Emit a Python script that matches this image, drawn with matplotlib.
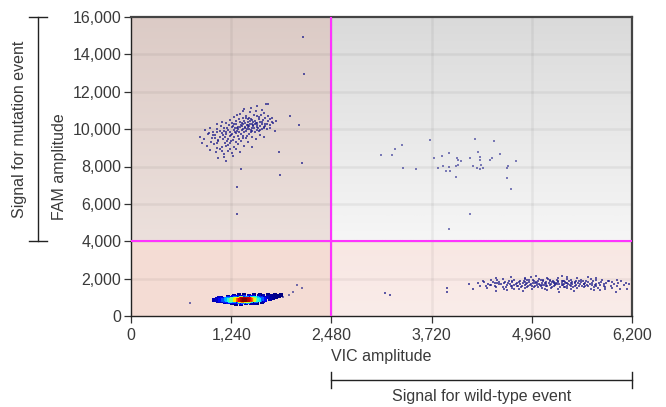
import matplotlib
matplotlib.use("Agg")
import matplotlib.pyplot as plt
import matplotlib.transforms as mtransforms
from matplotlib.colors import PowerNorm
import numpy as np

plt.rcParams["font.family"] = ["Liberation Sans", "DejaVu Sans"]

# axis setup
x_ticks = [0, 1240, 2480, 3720, 4960, 6200]
y_ticks = [0, 2000, 4000, 6000, 8000, 10000, 12000, 14000, 16000]
vic_threshold = 2480
fam_threshold = 4000

# FAM+ / VIC- cluster (mutation droplets), (VIC, FAM)
mut_pts = [
    (1480, 11150), (1560, 11250), (1620, 11050), (1400, 11080), (1700, 11320), (1674, 11360),
    (1280, 10650), (1350, 10820), (1420, 10700), (1470, 10900), (1520, 10760), (1580, 10650),
    (1640, 10880), (1700, 10720), (1390, 10950), (1550, 10980), (1310, 10780), (1610, 10780),
    (1750, 10620), (1460, 10620),
    (1060, 10250), (1120, 10400), (1180, 10310), (1230, 10500), (1270, 10260), (1300, 10420),
    (1340, 10550), (1370, 10330), (1400, 10460), (1430, 10240), (1450, 10380), (1480, 10520),
    (1500, 10300), (1530, 10440), (1560, 10220), (1580, 10560), (1600, 10360), (1630, 10480),
    (1660, 10280), (1690, 10420), (1720, 10540), (1760, 10330), (1800, 10450), (1420, 10580),
    (1250, 10350), (1510, 10210), (1545, 10350), (1470, 10450), (1360, 10230), (1620, 10250),
    (920, 9950), (980, 10080), (1020, 9850), (1070, 10000), (1110, 10150), (1150, 9900),
    (1190, 10050), (1220, 9820), (1250, 10120), (1280, 9950), (1310, 10080), (1340, 9870),
    (1370, 10180), (1390, 10010), (1420, 9900), (1450, 10100), (1480, 9960), (1510, 10150),
    (1540, 9840), (1570, 10050), (1600, 9930), (1640, 10120), (1680, 9990), (1720, 10080),
    (1780, 9900), (1330, 10000), (1460, 10000), (1410, 10130), (1290, 9840), (1560, 9960),
    (1200, 9940), (1500, 10060),
    (860, 9600), (900, 9450), (950, 9720), (1000, 9550), (1040, 9680), (1080, 9420),
    (1120, 9770), (1160, 9600), (1200, 9480), (1240, 9700), (1270, 9560), (1300, 9780),
    (1340, 9450), (1380, 9650), (1420, 9520), (1460, 9740), (1500, 9600), (1550, 9460),
    (1600, 9700), (1650, 9560), (1100, 9580), (1230, 9620), (1320, 9640), (1180, 9720),
    (1440, 9640),
    (880, 9250), (940, 9100), (990, 9320), (1030, 9180), (1080, 9380), (1120, 9050),
    (1160, 9260), (1200, 9150), (1240, 9350), (1280, 9020), (1320, 9220), (1360, 9380),
    (1400, 9120), (1450, 9300), (1500, 9060), (1060, 9260), (1190, 9360),
    (980, 8900), (1050, 8750), (1100, 8950), (1150, 8650), (1200, 8850), (1250, 8700),
    (1300, 8920), (1350, 8780), (1120, 8820), (1230, 8950),
    (1080, 8450), (1180, 8300), (1260, 8550), (1150, 8500),
    (1265, 10180), (1295, 10300), (1325, 10140), (1355, 10380), (1385, 10260), (1415, 10340),
    (1445, 10200), (1475, 10280), (1505, 10380), (1535, 10260), (1565, 10320), (1595, 10180),
    (1625, 10400), (1655, 10160), (1685, 10300), (1715, 10220), (1285, 10060), (1315, 9920),
    (1345, 10120), (1375, 9960), (1405, 10060), (1435, 9980), (1465, 10180), (1495, 9900),
    (1525, 10040), (1555, 10140), (1585, 9880), (1615, 10020), (1650, 10060), (1180, 9820),
    (1140, 9700), (1060, 9820), (1010, 9700), (1250, 9760), (1360, 9760), (1480, 9820),
    (1400, 9820), (1210, 10210), (1150, 10060), (1100, 9880), (960, 9800), (1040, 9500),
    (1140, 9460), (1260, 9420), (1380, 9500), (1300, 9300), (1180, 9080), (1060, 9000),
    (1220, 9240), (1500, 10470), (1450, 10560), (1380, 10620), (1660, 10600), (1560, 10700),
    (1740, 10400),
    (2133, 14933), (2145, 12960), (1970, 10720), (2083, 10240), (1835, 8800), (1847, 7520),
    (1364, 7840), (2120, 8210), (1312, 6880), (1312, 5440),
]

# FAM+ / VIC+ droplets (sparse)
double_pts = [
    (3695, 9440), (4253, 9493), (4489, 9386), (3348, 9173), (3261, 8960), (3088, 8640),
    (3236, 8640), (4290, 8800), (3931, 8746), (3745, 8480), (3844, 8586), (4030, 8480),
    (4042, 8373), (4080, 8320), (4191, 8480), (4315, 8533), (4315, 8373), (4464, 8480),
    (4439, 8373), (4563, 8693), (4762, 8320), (4662, 8053), (4328, 8106), (4228, 8053),
    (4018, 8053), (4042, 8106), (3931, 8000), (3856, 8053), (3794, 7946), (3360, 7893),
    (3522, 7840), (3894, 7733), (3943, 7733), (4278, 7893), (4315, 7840), (4352, 7893),
    (4650, 7893), (4018, 7413), (4650, 7360), (4700, 6773), (4191, 5440), (3931, 4640),
]

# VIC+ / FAM- cluster (wild-type droplets)
wt_pts = [
    (4520, 2040), (4700, 2100), (4880, 2020), (5010, 2130), (5150, 2060), (5280, 2010),
    (5400, 2110), (5520, 2040), (5650, 2080), (4950, 2070), (5330, 2150), (5750, 2030),
    (4360, 1880), (4450, 1950), (4530, 1900), (4600, 1980), (4680, 1870), (4740, 1940),
    (4810, 1890), (4870, 1990), (4930, 1910), (4990, 1860), (5050, 1960), (5100, 1900),
    (5160, 1990), (5220, 1870), (5270, 1940), (5330, 1890), (5390, 1980), (5450, 1920),
    (5510, 1860), (5570, 1950), (5630, 1880), (5690, 1970), (5760, 1900), (5830, 1950),
    (5920, 1880), (6010, 1930), (5040, 1880), (5190, 1920), (5360, 1860), (4900, 1950),
    (4300, 1760), (4370, 1800), (4420, 1720), (4480, 1840), (4530, 1770), (4580, 1710),
    (4630, 1820), (4670, 1750), (4720, 1800), (4760, 1730), (4800, 1840), (4850, 1770),
    (4890, 1710), (4930, 1810), (4970, 1750), (5010, 1830), (5050, 1720), (5090, 1790),
    (5130, 1840), (5170, 1740), (5210, 1800), (5250, 1710), (5290, 1830), (5330, 1760),
    (5370, 1810), (5410, 1720), (5450, 1790), (5490, 1840), (5530, 1750), (5570, 1800),
    (5610, 1720), (5660, 1830), (5710, 1770), (5760, 1710), (5820, 1800), (5880, 1750),
    (5950, 1820), (6030, 1760), (6120, 1790), (5000, 1780), (5120, 1760), (5230, 1770),
    (5380, 1740), (4880, 1800), (5460, 1830),
    (4320, 1620), (4390, 1580), (4440, 1670), (4500, 1600), (4550, 1690), (4600, 1560),
    (4650, 1640), (4700, 1590), (4740, 1680), (4790, 1620), (4830, 1570), (4870, 1660),
    (4910, 1600), (4950, 1690), (4990, 1560), (5030, 1640), (5070, 1600), (5110, 1680),
    (5150, 1580), (5190, 1650), (5230, 1610), (5270, 1690), (5310, 1570), (5350, 1640),
    (5390, 1600), (5430, 1680), (5470, 1560), (5510, 1650), (5550, 1610), (5600, 1690),
    (5650, 1580), (5700, 1640), (5760, 1600), (5810, 1670), (5870, 1560), (5940, 1630),
    (6020, 1590), (6100, 1660), (4960, 1630), (5090, 1650), (5210, 1570), (5330, 1680),
    (5450, 1620), (5580, 1580), (4780, 1580),
    (4410, 1480), (4520, 1530), (4620, 1450), (4710, 1510), (4800, 1420), (4880, 1500),
    (4960, 1460), (5040, 1540), (5120, 1430), (5200, 1490), (5280, 1450), (5360, 1530),
    (5440, 1420), (5520, 1480), (5600, 1540), (5690, 1450), (5780, 1500), (5860, 1430),
    (5950, 1520), (6050, 1470), (4740, 1470), (5090, 1510), (5400, 1480), (5730, 1410),
    (6140, 1440),
    (4520, 1350), (4850, 1320), (5150, 1380), (5480, 1340), (5800, 1370), (6000, 1310),
    (5300, 1300), (4650, 1390),
    (4620, 1780), (4690, 1700), (4710, 1860), (4780, 1760), (4820, 1690), (4860, 1860),
    (4900, 1740), (4940, 1680), (4980, 1900), (5020, 1760), (5060, 1680), (5100, 1850),
    (5140, 1720), (5180, 1880), (5200, 1690), (5240, 1840), (5260, 1760), (5300, 1700),
    (5340, 1850), (5360, 1700), (5400, 1770), (5420, 1860), (5460, 1700), (5500, 1770),
    (5540, 1870), (5560, 1700), (5590, 1850), (5620, 1780), (5640, 1660), (5680, 1720),
    (5720, 1870), (5740, 1660), (5790, 1760), (5850, 1700), (5900, 1850), (4560, 1810),
    (4500, 1740), (4460, 1640), (4640, 1560), (4720, 1620), (4840, 1630), (4900, 1550),
    (5000, 1610), (5130, 1620), (5250, 1640), (5370, 1560), (5490, 1600), (5620, 1630),
    (5730, 1540), (5850, 1620), (5980, 1700), (6070, 1850), (6160, 1700), (5290, 1880),
    (5080, 1950),
    (3143, 1227), (3200, 1120), (3910, 1490), (3910, 1280), (4232, 1440), (4180, 1700),
]

# double-negative cluster (empty droplets)
neg_pts = [
    (1285, 860), (1300, 900), (1310, 830), (1320, 880), (1330, 920), (1340, 850), (1350, 810),
    (1355, 890), (1365, 940), (1370, 860), (1380, 825), (1385, 905), (1395, 870), (1400, 845),
    (1405, 930), (1415, 880), (1420, 810), (1425, 900), (1435, 860), (1440, 925), (1450, 840),
    (1455, 885), (1465, 815), (1470, 905), (1480, 860), (1345, 870), (1375, 885), (1390, 835),
    (1410, 865), (1430, 840), (1445, 870), (1460, 900), (1325, 845), (1360, 915), (1400, 890),
    (1420, 855), (1380, 860), (1440, 885), (1350, 835), (1470, 875),
    (1140, 860), (1160, 800), (1170, 920), (1185, 850), (1200, 770), (1205, 960), (1215, 880),
    (1230, 820), (1240, 990), (1250, 740), (1255, 900), (1265, 1010), (1275, 780), (1290, 970),
    (1300, 730), (1315, 1020), (1330, 760), (1345, 990), (1360, 720), (1375, 1040), (1390, 760),
    (1405, 1000), (1420, 740), (1435, 980), (1450, 770), (1465, 1030), (1480, 790), (1495, 960),
    (1505, 830), (1515, 1010), (1525, 880), (1535, 940), (1545, 800), (1555, 990), (1565, 860),
    (1575, 920), (1590, 1040), (1600, 840), (1610, 960), (1620, 900), (1180, 890), (1220, 930),
    (1240, 870), (1260, 830), (1500, 900), (1520, 850), (1540, 910), (1560, 950), (1580, 880),
    (1190, 830),
    (1030, 870), (1050, 840), (1060, 900), (1080, 810), (1090, 940), (1100, 870), (1110, 780),
    (1120, 980), (1250, 680), (1300, 650), (1360, 660), (1420, 680), (1480, 700), (1540, 720),
    (1280, 1080), (1340, 1100), (1400, 1120), (1460, 1090), (1520, 1110), (1580, 1080),
    (1640, 1060), (1650, 920), (1660, 860), (1680, 990), (1700, 1040), (1720, 920), (1740, 1080),
    (1760, 970), (1780, 1110), (1800, 1020), (1640, 780), (1690, 1130), (1600, 1150), (1560, 690),
    (1620, 740), (1830, 1050), (1860, 1100), (1160, 740), (1200, 1040), (1130, 930),
]

# stray droplets near the negative cluster
neg_stray = [(733, 693), (2060, 1650), (2120, 1490), (2010, 1280), (1880, 1010), (1950, 1150)]

# quadrant background shades (top colour, bottom colour)
quad_bg = {
    "ul": ("#dccbc6", "#ece0dc"),
    "ur": ("#dadada", "#f6f6f6"),
    "ll": ("#f4dcd4", "#f5ddd5"),
    "lr": ("#f8e7e3", "#faece9"),
}

text_color = "#3a3a3a"
fs = 11.5

fig = plt.figure(figsize=(6.66, 4.07), dpi=100)
ax = fig.add_axes([131 / 666, 1 - 316 / 407, 501 / 666, 299 / 407])
xmax, ymax = x_ticks[-1], y_ticks[-1]


def gradient(ax, top, bottom, extent):
    c1 = np.array(matplotlib.colors.to_rgb(top))
    c2 = np.array(matplotlib.colors.to_rgb(bottom))
    t = np.linspace(0, 1, 64)[:, None]
    img = c1[None, :] * (1 - t) + c2[None, :] * t
    ax.imshow(img[:, None, :], extent=extent, aspect="auto", zorder=0, interpolation="bilinear")


gradient(ax, *quad_bg["ul"], (0, vic_threshold, fam_threshold, ymax))
gradient(ax, *quad_bg["ur"], (vic_threshold, xmax, fam_threshold, ymax))
gradient(ax, *quad_bg["ll"], (0, vic_threshold, 0, fam_threshold))
gradient(ax, *quad_bg["lr"], (vic_threshold, xmax, 0, fam_threshold))

for xv in x_ticks[1:-1]:
    ax.axvline(xv, color="black", alpha=0.05, lw=1.8, zorder=1)
for yv in y_ticks[1:-1]:
    ax.axhline(yv, color="black", alpha=0.05, lw=1.8, zorder=1)

navy = "#1c1c8a"
for pts, a in [(mut_pts, 0.7), (wt_pts, 0.7), (double_pts, 0.55), (neg_stray, 0.6)]:
    arr = np.array(pts, dtype=float)
    ax.scatter(arr[:, 0], arr[:, 1], s=4, marker="s", color=navy, alpha=a, linewidths=0, zorder=3)

# density-coloured negative cluster
neg = np.array(neg_pts, dtype=float)
nx, ny = neg[:, 0] / 110.0, neg[:, 1] / 60.0
d = np.exp(-((nx[:, None] - nx[None, :]) ** 2 + (ny[:, None] - ny[None, :]) ** 2) / 2).sum(axis=1)
order = np.argsort(d)
ax.scatter(neg[order, 0], neg[order, 1], c=d[order], cmap="jet", s=8, marker="s",
           linewidths=0, zorder=4, norm=PowerNorm(1.6, vmin=d.min(), vmax=d.max()))

ax.axvline(vic_threshold, color="#ff33ff", lw=1.5, zorder=5)
ax.axhline(fam_threshold, color="#ff33ff", lw=1.5, zorder=5)

ax.set_xlim(0, xmax)
ax.set_ylim(0, ymax)
ax.set_xticks(x_ticks)
ax.set_xticklabels([f"{v:,}" for v in x_ticks])
ax.set_yticks(y_ticks)
ax.set_yticklabels([f"{v:,}" for v in y_ticks])
ax.tick_params(axis="both", direction="out", length=5, width=0.9, labelsize=fs,
               colors="#333333", labelcolor=text_color)
ax.tick_params(axis="x", pad=4)
ax.tick_params(axis="y", pad=2)
for side in ["left", "bottom"]:
    ax.spines[side].set_color("#222222")
    ax.spines[side].set_linewidth(1.0)
for side in ["top", "right"]:
    ax.spines[side].set_color("#444444")
    ax.spines[side].set_linewidth(1.6)

ax.set_xlabel("VIC amplitude", fontsize=fs, color=text_color, labelpad=4)
ax.set_ylabel("FAM amplitude", fontsize=fs, color=text_color, labelpad=4)

# brackets outside the axes
ty = mtransforms.blended_transform_factory(fig.transFigure, ax.transData)
bx = 38 / 666
cap = 9 / 666
ax.plot([bx, bx], [fam_threshold, ymax], transform=ty, color="#222222", lw=1, clip_on=False)
for yv in [fam_threshold, ymax]:
    ax.plot([bx - cap, bx + cap], [yv, yv], transform=ty, color="#222222", lw=1, clip_on=False)
ax.text(20 / 666, (fam_threshold + ymax) / 2, "Signal for mutation event", transform=ty,
        rotation=90, ha="center", va="center", fontsize=fs, color=text_color)

tx = mtransforms.blended_transform_factory(ax.transData, fig.transFigure)
by = 1 - 380 / 407
capy = 8 / 407
ax.plot([vic_threshold, xmax], [by, by], transform=tx, color="#222222", lw=1, clip_on=False)
for xv in [vic_threshold, xmax]:
    ax.plot([xv, xv], [by - capy, by + capy], transform=tx, color="#222222", lw=1, clip_on=False)
ax.text((vic_threshold + xmax) / 2, 1 - 397 / 407, "Signal for wild-type event", transform=tx,
        ha="center", va="center", fontsize=fs, color=text_color)

fig.savefig("out.png", dpi=100)
